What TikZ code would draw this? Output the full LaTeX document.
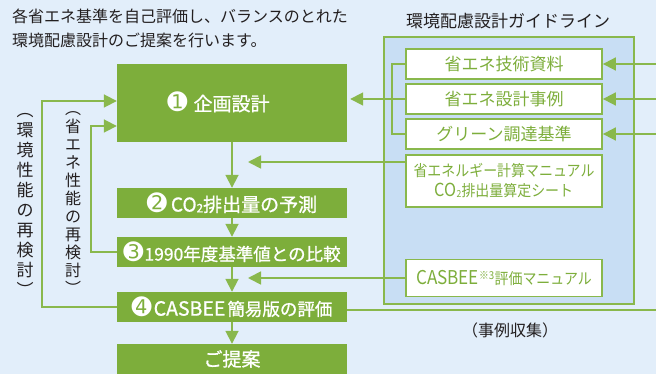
\documentclass[tikz,border=0pt]{standalone}
\usepackage{fontspec}
\usepackage{graphicx}
\setmainfont{Noto Sans CJK JP}
\newfontfamily\jpbold[FakeBold=1.0]{Noto Sans CJK JP}
\newfontfamily\djfont{DejaVu Sans}
\usetikzlibrary{arrows.meta,calc}
\definecolor{bg}{RGB}{226,238,250}
\definecolor{panelc}{RGB}{200,222,244}
\definecolor{gfill}{RGB}{125,174,59}
\definecolor{gline}{RGB}{137,184,76}
\definecolor{ink}{RGB}{35,31,32}
\newcommand\fs[2]{\fontsize{#1}{#2}\selectfont}
\newcommand\circnum[1]{{\djfont\fontsize{24}{24}\selectfont #1}}
\newcommand\subtwo{\raisebox{-0.04em}{\scalebox{0.62}{2}}}
\newcommand\lat[2]{{\fontsize{#1}{#1}\selectfont #2}}
\begin{document}
\begin{tikzpicture}[x=1pt,y=-1pt,
  line/.style={draw=gline,line width=1.8pt},
  arr/.style={line,-{Triangle[length=13pt,width=13pt]}},
  mainbox/.style={fill=gfill,draw=none,minimum width=230pt,minimum height=30pt,text=white,inner sep=0pt},
  guide/.style={fill=white,draw=gline,line width=1.8pt,minimum width=196pt,minimum height=30pt,text=gfill,inner sep=0pt},
]
\fill[bg] (0,0) rectangle (656,374);
\useasboundingbox (0,0) rectangle (656,374);

% top text
\node[anchor=base west,font=\fs{16}{16},inner sep=0,text=ink] (t1) at (12,22.5) {各省エネ基準を自己評価し、バランスのとれた};
\node[anchor=base west,font=\fs{16}{16},inner sep=0,text=ink] (t2) at (12,47) {環境配慮設計のご提案を行います。};

% panel
\node[fill=panelc,draw=gline,line width=1.8pt,minimum width=250pt,minimum height=267pt,inner sep=0] (panel) at (509,170.5) {};
\node[font=\fs{17}{17},text=ink,inner sep=0] (ptitle) at (508,21.5) {環境配慮設計ガイドライン};
\node[font=\fs{16}{16},text=ink,inner sep=0] (case) at (510,330) {（事例収集）};

% main column
\node[mainbox,minimum height=78pt,font=\jpbold\fs{19}{19}] (b1) at (232,103) {\raisebox{3pt}{\circnum{➊}\hspace{6pt}企画設計}\kern27pt};
\node[mainbox,font=\jpbold\fs{19}{19}] (b2) at (232,203) {\circnum{➋}\hspace{4pt}CO\subtwo 排出量の予測};
\node[mainbox,font=\jpbold\fs{17.5}{17.5}] (b3) at (232,252) {\circnum{➌}\hspace{1pt}1990年度基準値との比較};
\node[mainbox,font=\jpbold\fs{17.5}{17.5}] (b4) at (232,307) {\circnum{➍}\hspace{2pt}\lat{19.5}{CASBEE}\hspace{2pt}簡易版の評価};
\node[mainbox,font=\jpbold\fs{19}{19}] (b5) at (232,359) {ご提案};

% guideline boxes
\node[guide,font=\fs{17}{17}] (A) at (504,64) {省エネ技術資料};
\node[guide,font=\fs{17}{17}] (B) at (504,99) {省エネ設計事例};
\node[guide,font=\fs{17}{17}] (C) at (504,134) {グリーン調達基準};
\node[guide,minimum height=52pt,align=center,font=\fs{15.5}{20}] (D) at (504,181) {\scalebox{0.9}[1]{省エネルギー計算マニュアル}\\\scalebox{0.9}[1]{\lat{18}{CO}\subtwo 排出量算定シート}};
\node[guide,minimum height=37pt,font=\fs{15.5}{15.5}] (E) at (504,278) {\scalebox{0.9}[1]{\lat{19}{CASBEE}\textsuperscript{※3}評価マニュアル}};

% vertical labels
\node[font=\fs{17}{20},align=center,inner sep=0,text=ink] (v1) at (25,204.5) {︵\\環\\境\\性\\能\\の\\再\\検\\討\\︶};
\node[font=\fs{16}{18},align=center,inner sep=0,text=ink] (v2) at (73,203.5) {︵\\省\\エ\\ネ\\性\\能\\の\\再\\検\\討\\︶};

% coordinates
\coordinate (rA) at (656,64);
\coordinate (rB) at (656,99);
\coordinate (rC) at (656,134);
\coordinate (r4) at (656,310);
\coordinate (tD) at (248,162);
\coordinate (tE) at (248,278);

% connectors
\draw[arr] (b1.south) -- (b2.north);
\draw[arr] (b2.south) -- (b3.north);
\draw[arr] (b3.south) -- (b4.north);
\draw[arr] (b4.south) -- (b5.north);
\draw[arr] (rA) -- (A.east);
\draw[arr] (rB) -- (B.east);
\draw[arr] (rC) -- (C.east);
\draw[line] (A.west) -- ++(-13,0) |- (C.west);
\draw[arr] (B.west) -- ($(b1.east |- B.west)+(3,0)$);
\draw[arr] (D.west |- tD) -- (tD);
\draw[arr] (E.west) -- (tE);
\draw[line] (b4.east |- r4) -- (r4);
\draw[arr] (b4.west) -| ($(b1.west)+(-75,-2)$) -- ($(b1.west)+(0,-2)$);
\draw[arr] (b3.west) -| ($(b1.west)+(-26,23)$) -- ($(b1.west)+(0,23)$);
\end{tikzpicture}
\end{document}
